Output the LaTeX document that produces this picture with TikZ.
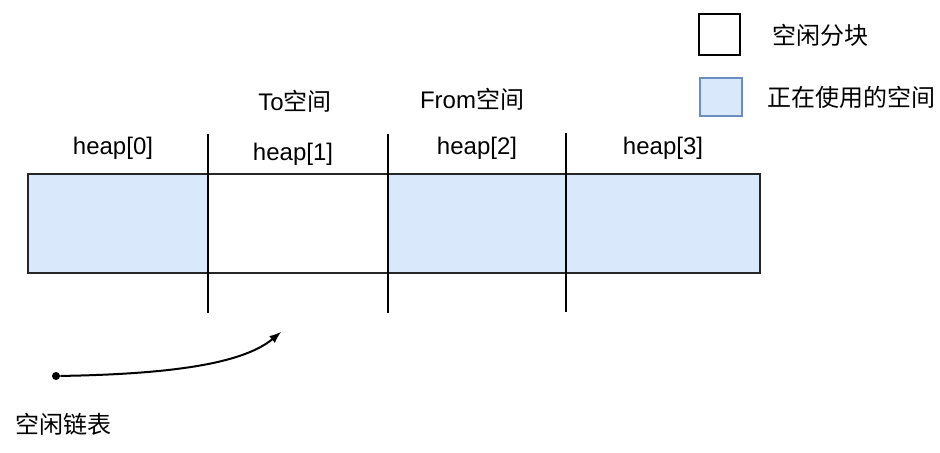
\documentclass[tikz,border=0pt]{standalone}
\usepackage{fontspec}
\setmainfont{Liberation Sans}
\newfontfamily\cjk{Noto Sans CJK SC}
\definecolor{usedfill}{HTML}{DAE8FC}
\definecolor{usedline}{HTML}{6C8EBF}
\begin{document}
\begin{tikzpicture}[x=0.5pt,y=-0.5pt,every node/.style={font=\fontsize{12}{14}\selectfont}]
	\useasboundingbox (0,0) rectangle (940,452);
	% the heap blocks
	\node[draw=black!85,line width=1pt,fill=usedfill,inner sep=0pt,minimum width=90pt,minimum height=49.5pt] (heap0) at (118,223.5) {};
	\node[draw=black!85,line width=1pt,fill=white,inner sep=0pt,minimum width=90pt,minimum height=49.5pt] (heap1) at (298,223.5) {};
	\node[draw=black!85,line width=1pt,fill=usedfill,inner sep=0pt,minimum width=89pt,minimum height=49.5pt] (heap2) at (477,223.5) {};
	\node[draw=black!85,line width=1pt,fill=usedfill,inner sep=0pt,minimum width=97pt,minimum height=49.5pt] (heap3) at (663,223.5) {};
	% dividers
	\coordinate (d1t) at (208,134); \coordinate (d1b) at (208,313);
	\coordinate (d2t) at (388,134); \coordinate (d2b) at (388,313);
	\coordinate (d3t) at (566,133); \coordinate (d3b) at (566,312);
	\draw[color=black,line width=1.2pt] (d1t)--(d1b);
	\draw[color=black,line width=1.2pt] (d2t)--(d2b);
	\draw[color=black,line width=1.2pt] (d3t)--(d3b);
	\node[] (lab0) at (113,148) {heap[0]};
	\node[] (lab1) at (293,154) {heap[1]};
	\node[] (lab2) at (477,148) {heap[2]};
	\node[] (lab3) at (663,148) {heap[3]};
	\node[] (tosp) at (295,101) {To{\cjk 空间}};
	\node[] (fromsp) at (472,99) {From{\cjk 空间}};
	% legend
	\node[draw=black,line width=1pt,fill=white,inner sep=0pt,minimum width=20.5pt,minimum height=20.5pt] (keyfree) at (719.5,34.5) {};
	\node[draw=usedline,line width=1pt,fill=usedfill,inner sep=0pt,minimum width=21pt,minimum height=19pt] (keyused) at (721,97) {};
	\node[anchor=west] (txtfree) at (765,35) {\cjk 空闲分块};
	\node[anchor=west] (txtused) at (760,97) {\cjk 正在使用的空间};
	% free list
	\node[circle,fill=black,inner sep=0pt,minimum size=4pt] (listdot) at (56,376) {};
	\coordinate (listtip) at (281,332);
	\draw[color=black,line width=1pt,-latex] (listdot) .. controls (180,374) and (245,362) .. (listtip);
	\node[] (listlab) at (63,424) {\cjk 空闲链表};
\end{tikzpicture}
\end{document}
